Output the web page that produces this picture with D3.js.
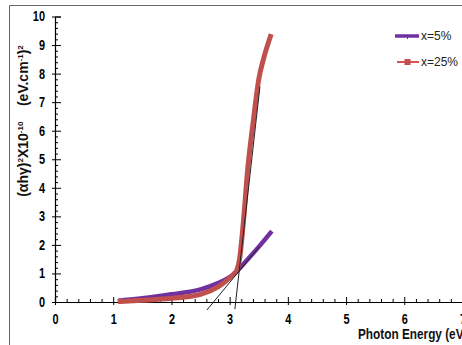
<!DOCTYPE html>
<html>
<head>
<meta charset="utf-8">
<script src="https://cdn.jsdelivr.net/npm/d3@7"></script>
<style>
  body { margin: 0; background: #fff; }
  svg { display: block; }
  .narrow { font-family: "Liberation Sans", Arial, sans-serif; font-weight: bold; }
</style>
</head>
<body>
<svg id="chart" width="462" height="345"></svg>
<script>
// series
const x5 = [1.12, 1.5, 2.0, 2.5, 2.8, 3.0, 3.1, 3.3, 3.5, 3.7];
const y5 = [0.05, 0.13, 0.27, 0.44, 0.66, 0.87, 1.03, 1.47, 1.93, 2.42];

const x25 = [1.12, 1.5, 2.0, 2.5, 2.8, 3.0, 3.08, 3.12, 3.17, 3.24, 3.31, 3.41, 3.5, 3.58, 3.7];
const y25 = [0.02, 0.06, 0.13, 0.27, 0.53, 0.84, 1.0, 1.1, 1.5, 2.9, 4.65, 6.4, 7.8, 8.5, 9.3];

// fitted tangent lines (end points)
const fit5 = [[2.61, -0.28], [3.51, 1.94]];
const fit25 = [[3.09, -0.25], [3.52, 7.54]];

const xTicks = [0, 1, 2, 3, 4, 5, 6, 7];
const yTicks = [0, 1, 2, 3, 4, 5, 6, 7, 8, 9, 10];
const seriesNames = ["x=5%", "x=25%"];

const purple = "#7030a0", red = "#c0504d";
const squeeze = 0.78; // fake a narrow font

const svg = d3.select("#chart");

function narrow(sel, k) {
  sel.each(function() {
    const t = d3.select(this);
    const xx = +t.attr("x") || 0;
    t.attr("x", xx / k).attr("transform", `scale(${k},1)`);
  });
}

// outer frame
svg.append("path")
  .attr("d", "M9.5,345V5.5H462")
  .attr("fill", "none")
  .attr("stroke", "#666")
  .attr("stroke-width", 1);

const x = d3.scaleLinear().domain([0, 7]).range([55, 462.5]);
const y = d3.scaleLinear().domain([0, 10]).range([302, 16.5]);

const minorX = d3.range(0, 7.01, 0.2).filter(v => Math.abs(v - Math.round(v)) > 0.01);
const minorY = d3.range(0, 10.01, 0.2).filter(v => Math.abs(v - Math.round(v)) > 0.01);

// x axis
const gx = svg.append("g").attr("transform", `translate(0,${y(0)})`);
gx.call(d3.axisBottom(x).tickValues(xTicks).tickSize(-5).tickPadding(12).tickFormat(d3.format("d")));
gx.selectAll(".tick line").attr("y1", 3);
gx.append("g").call(d3.axisBottom(x).tickValues(minorX).tickSize(-3).tickFormat(""))
  .select(".domain").remove();

// y axis
const gy = svg.append("g").attr("transform", `translate(${x(0)},0)`);
gy.call(d3.axisLeft(y).tickValues(yTicks).tickSize(-6).tickPadding(10).tickFormat(d3.format("d")));
gy.selectAll(".tick line").attr("x1", -3);
gy.append("g").call(d3.axisLeft(y).tickValues(minorY).tickSize(-3).tickFormat(""))
  .select(".domain").remove();

svg.selectAll(".domain").attr("stroke", "#000").attr("stroke-width", 1.2);
svg.selectAll(".tick line").attr("stroke", "#000");
svg.selectAll(".tick text").attr("class", "narrow").attr("font-size", 14).attr("fill", "#000")
  .call(narrow, squeeze);

const line = d3.line().x(d => x(d[0])).y(d => y(d[1])).curve(d3.curveMonotoneX);

svg.append("path")
  .datum(d3.zip(x5, y5))
  .attr("d", line)
  .attr("fill", "none")
  .attr("stroke", purple)
  .attr("stroke-width", 4.5)
  .attr("stroke-linecap", "square");

svg.append("path")
  .datum(d3.zip(x25, y25))
  .attr("d", line)
  .attr("fill", "none")
  .attr("stroke", red)
  .attr("stroke-width", 5)
  .attr("stroke-linecap", "square");

// tangent lines
const straight = d3.line().x(d => x(d[0])).y(d => y(d[1]));
[fit5, fit25].forEach(f => {
  svg.append("path")
    .attr("d", straight(f))
    .attr("fill", "none")
    .attr("stroke", "#222")
    .attr("stroke-width", 1);
});

// legend
const lg = svg.append("g");
lg.append("line").attr("x1", 395).attr("x2", 419).attr("y1", 36).attr("y2", 36)
  .attr("stroke", purple).attr("stroke-width", 3.5);
lg.append("line").attr("x1", 407.5).attr("x2", 407.5).attr("y1", 36).attr("y2", 39)
  .attr("stroke", purple).attr("stroke-width", 1);
lg.append("line").attr("x1", 397).attr("x2", 419).attr("y1", 62).attr("y2", 62)
  .attr("stroke", "#d01818").attr("stroke-width", 1.5);
lg.append("rect").attr("x", 404.5).attr("y", 59).attr("width", 6).attr("height", 6)
  .attr("fill", red);
lg.selectAll("text.leg").data(seriesNames).enter().append("text")
  .attr("class", "leg")
  .attr("x", 421)
  .attr("y", (d, i) => 36 + i * 26)
  .attr("dy", "0.35em")
  .attr("font-family", "Liberation Sans, Arial, sans-serif")
  .attr("font-size", 12)
  .attr("fill", "#222")
  .text(d => d);

// axis titles
const xt = svg.append("text")
  .attr("class", "narrow")
  .attr("y", 339)
  .attr("font-size", 15.5)
  .attr("fill", "#111")
  .text("Photon Energy (eV)");
// "Photon Energy" spans about 84px in the picture
const kx = 84 / xt.node().getSubStringLength(0, 13);
xt.attr("x", 358 / kx).attr("transform", `scale(${kx},1)`);

const yt = svg.append("text")
  .attr("class", "narrow")
  .attr("text-anchor", "middle")
  .attr("font-size", 14)
  .attr("fill", "#111");
yt.append("tspan").text("(αhγ)");
yt.append("tspan").attr("dy", -5).attr("font-size", 8).text("2");
yt.append("tspan").attr("dy", 5).text("X10");
yt.append("tspan").attr("dy", -5).attr("font-size", 8).text("-10");
yt.append("tspan").attr("dy", 5).text("\u00a0\u00a0\u00a0\u00a0(eV.cm");
yt.append("tspan").attr("dy", -5).attr("font-size", 8).text("-1");
yt.append("tspan").attr("dy", 5).text(")");
yt.append("tspan").attr("dy", -5).attr("font-size", 8).text("2");
// squeeze the title so it spans the same height as in the picture
const titleLen = yt.node().getComputedTextLength();
const ky = Math.min(1, 182 / titleLen);
yt.attr("transform", `translate(28,121) rotate(-90) scale(${ky},1)`);
</script>
</body>
</html>
